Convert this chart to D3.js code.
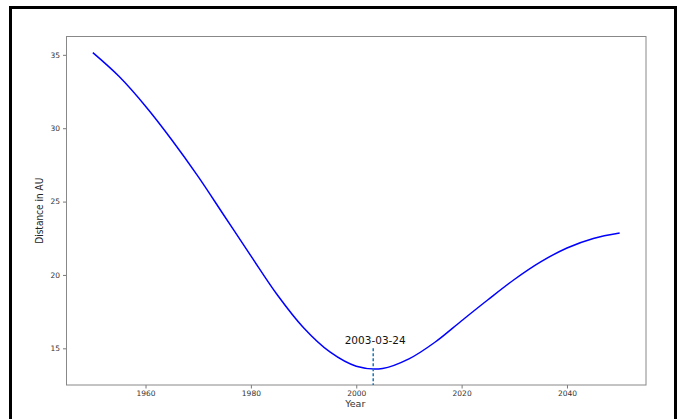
<!DOCTYPE html>
<html><head><meta charset="utf-8">
<script src="https://cdn.jsdelivr.net/npm/d3@7"></script>
<style>body{margin:0;background:#fff;} svg{display:block;}</style>
</head><body>
<svg id="c" width="681" height="419"></svg>
<script>
const years = [1950,1955,1960,1965,1970,1975,1980,1985,1990,1995,2000,2005,2010,2015,2020,2025,2030,2035,2040,2045,2050];
const distances = [35.15,33.52,31.5,29.2,26.7,24.0,21.3,18.65,16.4,14.75,13.78,13.63,14.28,15.43,16.88,18.31,19.69,20.89,21.84,22.49,22.86];
const xTicks = [1960,1980,2000,2020,2040];
const yTicks = [15,20,25,30,35];
const minYear = 2003.22;
const minLabel = "2003-03-24";
const minLabelValue = 15.0;

const svg = d3.select("#c");
svg.append("rect").attr("x",10.5).attr("y",7.5).attr("width",665).attr("height",440)
  .attr("fill","none").attr("stroke","#000").attr("stroke-width",3);

const L=66.5,R=646,T=36.5,B=385;
const x = d3.scaleLinear().domain([1945,2055]).range([L,R]);
const y = d3.scaleLinear().domain([12.5,36.25]).range([B,T]);

const gx = svg.append("g").attr("transform",`translate(0,${B})`)
  .call(d3.axisBottom(x).tickValues(xTicks).tickFormat(d3.format("d")).tickSize(3.5).tickPadding(2));
const gy = svg.append("g").attr("transform",`translate(${L},0)`)
  .call(d3.axisLeft(y).tickValues(yTicks).tickSize(3.5).tickPadding(3));
[gx,gy].forEach(g=>{
  g.select(".domain").remove();
  g.selectAll(".tick line").attr("stroke","#555").attr("stroke-width",0.8);
  g.selectAll(".tick text").attr("fill","#333").style("font-family","DejaVu Sans").style("font-size","7.5px");
});
svg.append("rect").attr("x",L).attr("y",T).attr("width",R-L).attr("height",B-T)
  .attr("fill","none").attr("stroke","#888").attr("stroke-width",1);

const line = d3.line().x((d,i)=>x(years[i])).y(d=>y(d)).curve(d3.curveCatmullRom.alpha(0.5));
svg.append("path").datum(distances).attr("d",line).attr("fill","none")
  .attr("stroke","#0000ff").attr("stroke-width",1.5);

svg.append("line").attr("x1",x(minYear)).attr("x2",x(minYear))
  .attr("y1",y(minLabelValue)).attr("y2",B)
  .attr("stroke","#1f77b4").attr("stroke-width",1.5).attr("stroke-dasharray","3,2");
svg.append("text").attr("x",x(minYear)+2).attr("y",y(minLabelValue)-4)
  .attr("text-anchor","middle").style("font-family","DejaVu Sans").style("font-size","10.5px")
  .attr("fill","#111").text(minLabel);

svg.append("text").attr("x",(L+R)/2-1).attr("y",407).attr("text-anchor","middle")
  .style("font-family","DejaVu Sans").style("font-size","9.5px").style("font-weight","500")
  .attr("fill","#333").text("Year");
svg.append("text").attr("transform",`translate(43,${(T+B)/2}) rotate(-90)`).attr("text-anchor","middle")
  .style("font-family","DejaVu Sans Condensed").style("font-size","10px").attr("fill","#222")
  .text("Distance in AU");
</script>
</body></html>
